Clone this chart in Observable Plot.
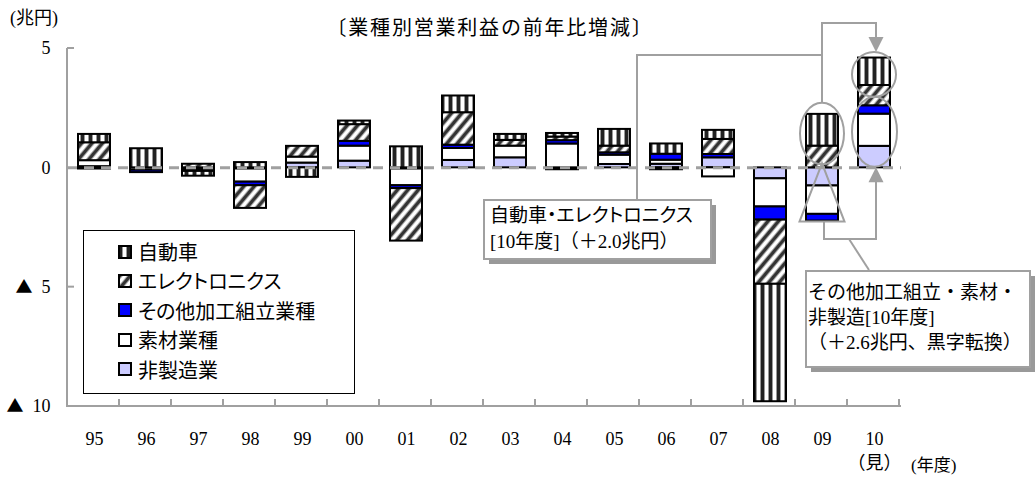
<!DOCTYPE html>
<html>
<head>
<meta charset="utf-8">
<script src="https://cdn.jsdelivr.net/npm/d3@7"></script>
<script src="https://cdn.jsdelivr.net/npm/@observablehq/plot@0.6"></script>
<style>
  body { margin: 0; background: #fff; }
  #wrap { position: relative; width: 1035px; height: 477px; overflow: hidden;
          font-family: "Liberation Serif", "Noto Sans CJK JP", serif; color: #000; }
  #wrap svg.plot { position: absolute; left: 0; top: 0; }
  .lbl { position: absolute; white-space: nowrap; line-height: 1; }
  .jp { font-family: "Noto Sans CJK JP", sans-serif; }
  #legend { position: absolute; left: 83px; top: 230px; width: 272px; height: 164px;
            border: 1.5px solid #000; background: #fff; box-sizing: border-box; }
  .item { position: absolute; left: 34px; height: 26px; display: flex; align-items: center;
          font-family: "Noto Sans CJK JP", sans-serif; font-size: 20px; font-feature-settings: "palt"; }
  .item svg { margin-right: 6px; }
</style>
</head>
<body>
<!-- fill patterns shared by the bars and the legend swatches -->
<svg width="0" height="0" style="position:absolute">
  <defs>
    <pattern id="pat-auto" patternUnits="userSpaceOnUse" width="8" height="8">
      <rect width="8" height="8" fill="#fff"/>
      <rect x="0" width="1" height="8" fill="#999"/>
      <rect x="1" width="3" height="8" fill="#222"/>
      <rect x="4" width="1" height="8" fill="#999"/>
    </pattern>
    <pattern id="pat-elec" patternUnits="userSpaceOnUse" width="8" height="8" patternTransform="rotate(40)">
      <rect width="8" height="8" fill="#fff"/>
      <rect x="0" width="1" height="8" fill="#aaa"/>
      <rect x="1" width="3" height="8" fill="#333"/>
      <rect x="4" width="1" height="8" fill="#aaa"/>
    </pattern>
  </defs>
</svg>
<div id="wrap"></div>
<script>
// Fiscal years (10 = forecast)
const years = ["95","96","97","98","99","00","01","02","03","04","05","06","07","08","09","10"];

// Sectors, in stacking order from the zero line outward
const sectorNames = ["非製造業", "素材業種", "その他加工組立業種", "エレクトロニクス", "自動車"];
const sectorFills = ["#ccccff", "#ffffff", "#0000ff", "url(#pat-elec)", "url(#pat-auto)"];

// Year-on-year change in operating profit (trillion yen)
const nonManufacturing = [0.05, 0, -0.05, -0.05, 0.2, 0.28, -0.05, 0.31, 0.42, -0.08, 0.14, 0.15, 0.42, -0.46, -0.76, 0.9];
const materials        = [0.25, -0.1, -0.05, -0.55, 0.25, 0.63, -0.7, 0.5, 0.49, 1.0, 0.39, 0.17, -0.38, -1.18, -1.19, 1.35];
const otherAssembly    = [-0.05, -0.1, -0.05, -0.15, 0, 0.2, -0.12, 0.14, 0, 0.14, 0.1, 0.25, 0.14, -0.55, -0.28, 0.35];
const electronics      = [0.75, 0, 0.15, -0.95, 0.45, 0.7, -2.2, 1.36, 0.24, 0.15, 0.28, -0.08, 0.63, -2.69, 0.91, 0.85];
const automobiles      = [0.35, 0.8, -0.2, 0.22, -0.4, 0.15, 0.88, 0.7, 0.25, 0.15, 0.7, 0.43, 0.38, -4.92, 1.33, 1.15];

const yTicks = [5, 0, -5, -10];

const seriesValues = [nonManufacturing, materials, otherAssembly, electronics, automobiles];
const rows = years.flatMap((year, i) =>
  sectorNames.map((sector, j) => ({year, sector, value: seriesValues[j][i]}))
).filter(d => d.value !== 0);

const FONT = '"Liberation Serif", "Noto Sans CJK JP", serif';
const CJK = '"Noto Sans CJK JP", sans-serif';
const GRAY = "#a0a0a0";

const chart = Plot.plot({
  width: 1035,
  height: 477,
  marginLeft: 67,
  marginRight: 134,
  marginTop: 48,
  marginBottom: 71,
  style: {fontFamily: FONT, fontSize: "18px", background: "transparent", color: "#000"},
  x: {domain: years, paddingInner: 0.38, paddingOuter: 0.19, label: null},
  y: {domain: [-10, 5], label: null},
  color: {type: "ordinal", domain: sectorNames, range: sectorFills},
  marks: [
    Plot.barY(rows, {x: "year", y: "value", fill: "sector", stroke: "#000", strokeWidth: 2}),
    Plot.ruleY([0], {stroke: GRAY, strokeWidth: 3, strokeDasharray: "10,7"}),
    Plot.axisX({tickSize: 0, tickPadding: 21, fontSize: 18, lineHeight: 1.35,
                tickFormat: d => d === "10" ? "10\n（見）" : d}),
    Plot.axisY({ticks: yTicks, tickSize: 0, tickPadding: 17, fontSize: 18,
                tickFormat: d => d < 0 ? `▲ ${-d}` : `${d}`})
  ]
});
chart.classList.add("plot");
const wrap = document.getElementById("wrap");
wrap.appendChild(chart);

const svg = d3.select(chart);

// negative ticks: draw the triangle sign in the full-width CJK glyph
svg.selectAll('g[aria-label="y-axis tick label"] text').each(function () {
  const t = this.textContent;
  if (!t.startsWith("▲")) return;
  const el = d3.select(this).text(null);
  el.append("tspan").attr("font-family", CJK).attr("font-size", 17).text("▲");
  el.append("tspan").text("\u2002" + t.slice(2));
});

const xs = chart.scale("x");
const ys = chart.scale("y");
const X = v => xs.apply(v);
const Y = v => ys.apply(v);
const bw = xs.bandwidth;
const step = xs.step;
const [x0, x1] = xs.range;

// axis lines with inward ticks
const axes = svg.insert("g", ":first-child").attr("stroke", GRAY).attr("stroke-width", 2).attr("fill", "none");
axes.append("path").attr("d", `M${x0},${Y(5)}V${Y(-10)}H${x1}`);
for (const t of yTicks.filter(t => t !== -10 && t !== 0)) {
  axes.append("line").attr("x1", x0).attr("x2", x0 + 7).attr("y1", Y(t)).attr("y2", Y(t));
}
years.forEach((_, i) => {
  const xb = x0 + (i + 1) * step;
  axes.append("line").attr("x1", xb).attr("x2", xb).attr("y1", Y(-10)).attr("y2", Y(-10) - 7);
});

// ---- annotations ----
const sumFor = (year, pred) => rows.filter(d => d.year === year && pred(d)).reduce((a, d) => a + d.value, 0);
const isAutoElec = d => d.sector === "自動車" || d.sector === "エレクトロニクス";
const pos09 = sumFor("09", d => d.value > 0);
const neg09 = sumFor("09", d => d.value < 0);
const pos10 = sumFor("10", d => d.value > 0);
const autoElec10 = sumFor("10", isAutoElec);
const rest10 = sumFor("10", d => !isAutoElec(d));
const cx09 = X("09") + bw / 2;
const cx10 = X("10") + bw / 2;

const ann = svg.append("g").attr("fill", "none").attr("stroke", GRAY).attr("stroke-width", 2);

// ellipse around 09 automobiles + electronics
const eA = {cy: (Y(pos09) + Y(0)) / 2 - 7, ry: (Y(0) - Y(pos09)) / 2 + 4};
ann.append("ellipse").attr("cx", cx09).attr("cy", eA.cy).attr("rx", 22).attr("ry", eA.ry);
// ellipse around 10 automobiles + electronics
const eB = {cy: (Y(pos10) + Y(rest10)) / 2 - 7, ry: (Y(rest10) - Y(pos10)) / 2 - 1.5};
ann.append("ellipse").attr("cx", cx10).attr("cy", eB.cy).attr("rx", 22).attr("ry", eB.ry);
// ellipse around 10 remaining sectors
const eC = {cy: (Y(rest10) + Y(0)) / 2 - 4.5, ry: (Y(0) - Y(rest10)) / 2 + 4};
ann.append("ellipse").attr("cx", cx10 + 0.5).attr("cy", eC.cy).attr("rx", 22.5).attr("ry", eC.ry);
// triangle around 09 losses
const triBase = Y(neg09) + 1;
ann.append("path").attr("d", `M${cx09},${Y(0) - 4}L${cx09 - 22.5},${triBase}H${cx09 + 22.5}Z`);

// connector: 09 ellipse -> 10 upper ellipse
const topY = Y(5) - 25;
ann.append("path").attr("d", `M${cx09},${eA.cy - eA.ry}V${topY}H${cx10 + 2}V${eB.cy - eB.ry - 14}`);
ann.append("path").attr("fill", GRAY).attr("stroke", "none")
  .attr("d", `M${cx10 + 2 - 7.5},${eB.cy - eB.ry - 15}h15l-7.5,15z`);
// connector: callout 1 -> 09 ellipse line
const xb1 = x0 + 11 * step - 2;
ann.append("path").attr("d", `M${xb1},200V${Y(5) + 7}H${cx09}`);

// connector: 09 triangle -> 10 lower part
const lowY = triBase + 17.5;
ann.append("path").attr("d", `M${cx09 + 2},${triBase}V${lowY}H${cx10 + 2}V${Y(0) + 14}`);
ann.append("path").attr("fill", GRAY).attr("stroke", "none")
  .attr("d", `M${cx10 + 2 - 7.5},${Y(0) + 15}h15l-7.5,-15z`);
ann.append("path").attr("d", `M${cx09 + 27},${lowY}L${cx09 + 47},270`);

// callout boxes with drop shadow; lines = [text, proportional kana?]
function callout(x, y, w, h, lines, size, lineGap, textX, firstY) {
  const g = svg.append("g").attr("text-anchor", "start");
  g.append("rect").attr("x", x + 5).attr("y", y + 5).attr("width", w).attr("height", h).attr("fill", "#999");
  g.append("rect").attr("x", x).attr("y", y).attr("width", w).attr("height", h)
    .attr("fill", "#fff").attr("stroke", GRAY).attr("stroke-width", 2);
  lines.forEach(([t, prop], i) => {
    const txt = g.append("text").attr("x", textX).attr("y", firstY + i * lineGap)
      .attr("text-anchor", "start")
      .attr("dominant-baseline", "central").attr("font-size", size)
      .attr("font-family", FONT).attr("fill", "#000").text(t);
    if (prop) txt.style("font-feature-settings", '"palt"');
  });
}
callout(484, 200, 227, 59,
  [["自動車・エレクトロニクス", true], [`[10年度]（＋${autoElec10.toFixed(1)}兆円）`, false]],
  19, 26.5, 490, 215);
callout(806, 271, 224, 96,
  [["その他加工組立・素材・", false], ["非製造[10年度]", false], [`（＋${rest10.toFixed(1)}兆円、黒字転換）`, false]],
  19, 25, 808, 292);

// ---- html labels ----
function label(text, x, y, size, cls, anchor = "middle") {
  const el = document.createElement("div");
  el.className = "lbl " + (cls || "");
  el.textContent = text;
  el.style.fontSize = size + "px";
  el.style.left = x + "px";
  el.style.top = y + "px";
  const tx = anchor === "middle" ? "-50%" : anchor === "end" ? "-100%" : "0";
  el.style.transform = `translate(${tx},-50%)`;
  wrap.appendChild(el);
  return el;
}
label("〔業種別営業利益の前年比増減〕", 490, 27, 20, "jp").style.letterSpacing = "1.8px";
label("(兆円)", 10, 18, 18, "", "start");
label("(年度)", 911, 465, 17, "", "start");

// legend, top entry = outermost stack
const legend = document.createElement("div");
legend.id = "legend";
[...sectorNames].reverse().forEach((name, i) => {
  const fill = sectorFills[sectorNames.indexOf(name)];
  const item = document.createElement("div");
  item.className = "item";
  item.style.top = (22 + i * 29.4 - 13 - 1.5) + "px";
  item.innerHTML = `<svg width="14" height="14"><rect x="1" y="1" width="12" height="12" fill="${fill}" stroke="#000" stroke-width="2"/></svg><span>${name}</span>`;
  legend.appendChild(item);
});
wrap.appendChild(legend);
</script>
</body>
</html>
